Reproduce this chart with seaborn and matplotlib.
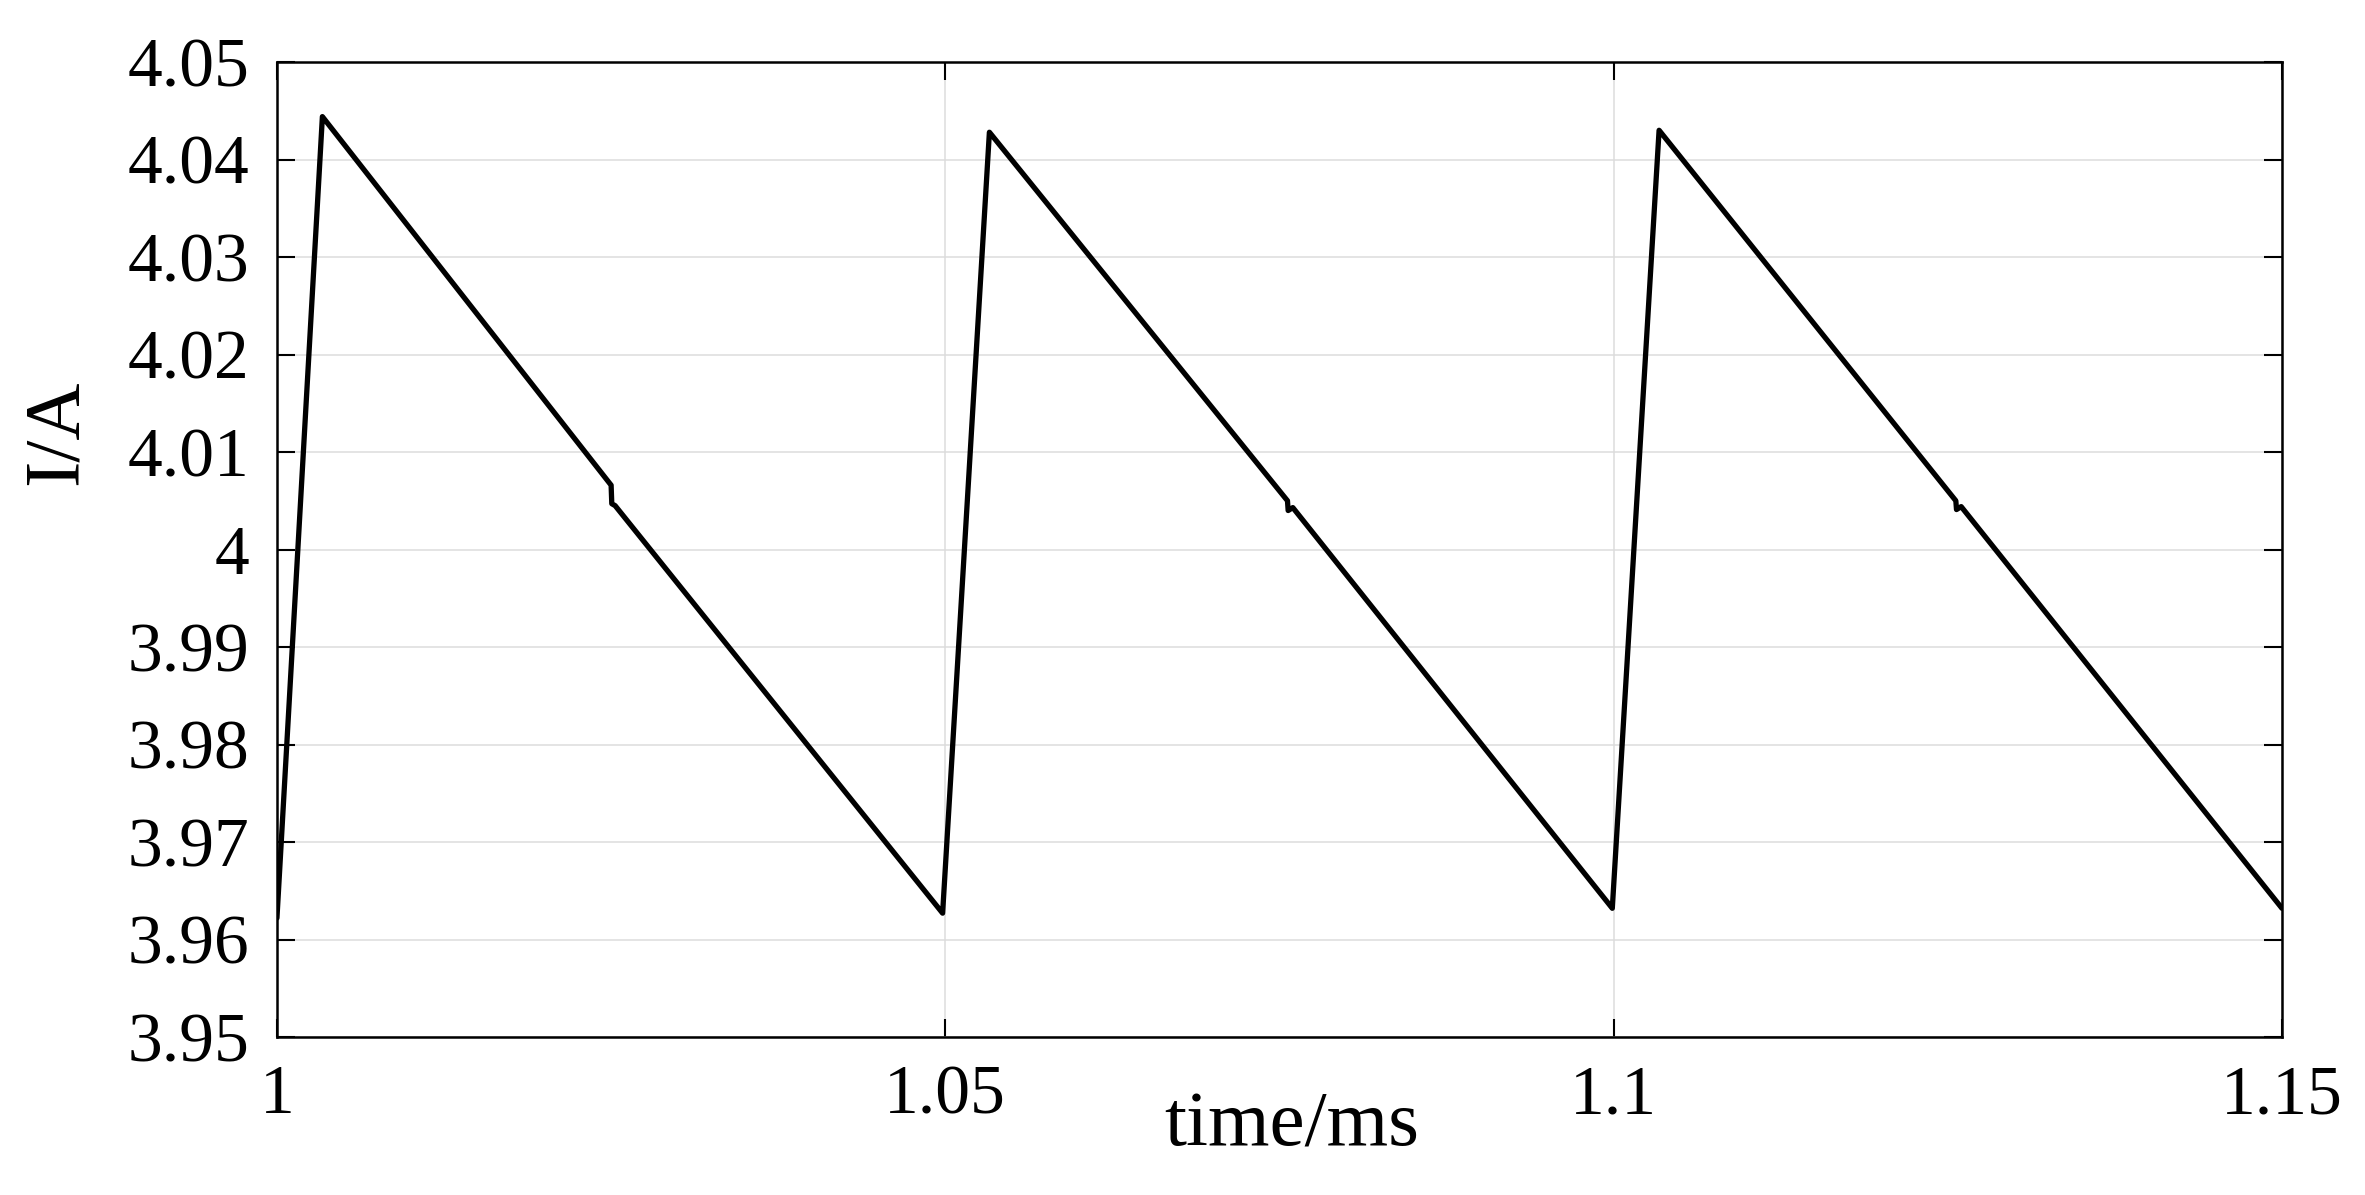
import numpy as np
import pandas as pd
from matplotlib import pyplot as plt
import seaborn as sns

# waveform (time in ms, current in A)
time_ms = [1.0, 1.0034, 1.0250, 1.02505, 1.0253, 1.0498,
           1.0533, 1.0756, 1.07565, 1.0760, 1.0999,
           1.1034, 1.1256, 1.12565, 1.1260, 1.15]
current_A = [3.9622, 4.0444, 4.0066, 4.0047, 4.0045, 3.9627,
             4.0428, 4.0050, 4.0040, 4.0043, 3.9632,
             4.0430, 4.0050, 4.0041, 4.0044, 3.9632]

xticks = [1.0, 1.05, 1.1, 1.15]
xticklabels = ["1", "1.05", "1.1", "1.15"]
yticks = [3.95, 3.96, 3.97, 3.98, 3.99, 4.0, 4.01, 4.02, 4.03, 4.04, 4.05]
yticklabels = ["3.95", "3.96", "3.97", "3.98", "3.99", "4",
               "4.01", "4.02", "4.03", "4.04", "4.05"]


def plot(df, outf):
    sns.set_style("ticks")
    plt.rcParams['font.family'] = ['Liberation Serif', 'DejaVu Serif']

    fig = plt.figure(figsize=(23.65, 11.95), dpi=100)
    ax = fig.add_axes([0.1171, 0.1322, 0.8478, 0.8159])

    sns.lineplot(data=df, x="time", y="I", ax=ax, color="black",
                 linewidth=3.8, estimator=None, sort=False)

    ax.set_xlim(1.0, 1.15)
    ax.set_ylim(3.95, 4.05)
    ax.set_xticks(xticks)
    ax.set_xticklabels(xticklabels)
    ax.set_yticks(yticks)
    ax.set_yticklabels(yticklabels)

    ax.grid(True, color="#dcdcdc", linewidth=1.1)
    ax.set_axisbelow(True)
    for sp in ax.spines.values():
        sp.set_visible(True)
        sp.set_color("black")
        sp.set_linewidth(1.8)

    ax.tick_params(direction="in", length=13, width=1.5, pad=20,
                   labelsize=50, top=True, right=True, colors="black")

    ax.set_xlabel("time/ms", fontsize=57, color="black")
    ax.set_ylabel("I/A", fontsize=57, color="black")
    ax.xaxis.set_label_coords(0.506, -0.055)
    ax.yaxis.set_label_coords(-0.092, 0.62)

    fig.savefig(outf, dpi=100)


if __name__ == "__main__":
    df = pd.DataFrame({"time": np.array(time_ms), "I": np.array(current_A)})
    plot(df, "out.png")
